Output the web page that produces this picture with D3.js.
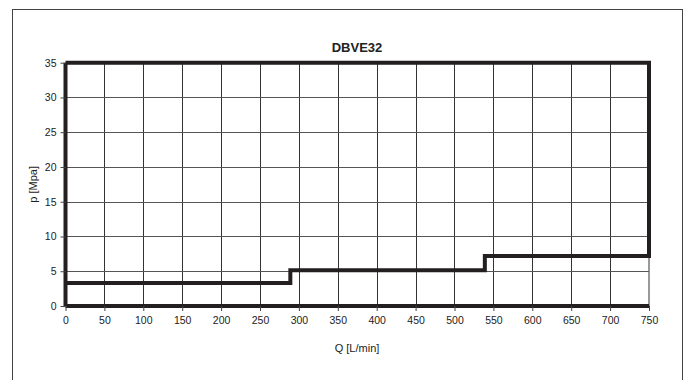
<!DOCTYPE html>
<html>
<head>
<meta charset="utf-8">
<script src="https://cdn.jsdelivr.net/npm/d3@7"></script>
<style>
  html, body { margin: 0; padding: 0; background: #fff; }
  svg text { font-family: "Liberation Sans Narrow", "Liberation Sans", Arial, sans-serif; fill: #222; }
</style>
</head>
<body>
<svg id="chart" width="690" height="380"></svg>
<script>
const title = "DBVE32";
const xLabel = "Q [L/min]";
const yLabel = "p [Mpa]";
const xTicks = [0, 50, 100, 150, 200, 250, 300, 350, 400, 450, 500, 550, 600, 650, 700, 750];
const yTicks = [0, 5, 10, 15, 20, 25, 30, 35];
// characteristic curve (flow Q, pressure p)
const flowQ = [0, 289, 289, 539, 539, 750, 750, 0];
const pressureP = [3.3, 3.3, 5.15, 5.15, 7.2, 7.2, 35, 35];

const svg = d3.select("#chart");
const x = d3.scaleLinear().domain([0, 750]).range([65.5, 649]);
const y = d3.scaleLinear().domain([0, 35]).range([306, 62.7]);

// outer frame
svg.append("rect").attr("x", 12.5).attr("y", 9.5).attr("width", 670).attr("height", 380)
  .attr("fill", "none").attr("stroke", "#444").attr("stroke-width", 1);

// plot area right border (thin gray)
svg.append("line").attr("x1", x(750)).attr("x2", x(750)).attr("y1", y(0)).attr("y2", y(35))
  .attr("stroke", "#999").attr("stroke-width", 2);

// grid
const g = svg.append("g");
g.selectAll(".vg").data(xTicks.slice(1, -1)).enter().append("line")
  .attr("x1", d => Math.round(x(d)) + 0.5).attr("x2", d => Math.round(x(d)) + 0.5)
  .attr("y1", y(0)).attr("y2", y(35)).attr("stroke", "#333").attr("stroke-width", 1);
g.selectAll(".hg").data(yTicks.slice(1, -1)).enter().append("line")
  .attr("y1", d => Math.round(y(d)) + 0.5).attr("y2", d => Math.round(y(d)) + 0.5)
  .attr("x1", x(0)).attr("x2", x(750)).attr("stroke", "#555").attr("stroke-width", 1);

// axes
const xAxis = svg.append("g").attr("transform", `translate(0,${y(0)})`)
  .call(d3.axisBottom(x).tickValues(xTicks).tickSize(5).tickPadding(6).tickFormat(d3.format("d")));
const yAxis = svg.append("g").attr("transform", `translate(${x(0)},0)`)
  .call(d3.axisLeft(y).tickValues(yTicks).tickSize(5).tickPadding(4).tickFormat(d3.format("d")));
[xAxis, yAxis].forEach(a => {
  a.select(".domain").attr("stroke", "#231f20").attr("stroke-width", 4);
  a.selectAll(".tick line").attr("stroke", "#444");
  a.selectAll("text").attr("font-size", 10.5).attr("fill", "#222")
    .attr("font-family", "'Liberation Sans Narrow', 'Liberation Sans', Arial, sans-serif");
});
xAxis.select(".domain").attr("d", `M${x(0)},0H${x(750)}`);
yAxis.select(".domain").attr("d", `M0,${y(0)}V${y(35)}`);

// curve
const line = d3.line().x(d => x(d[0])).y(d => y(d[1]));
const pts = flowQ.map((q, i) => [q, pressureP[i]]);
svg.append("path").attr("d", line(pts)).attr("fill", "none")
  .attr("stroke", "#231f20").attr("stroke-width", 4).attr("stroke-linejoin", "miter");

// titles
svg.append("text").attr("x", 357).attr("y", 52).attr("text-anchor", "middle")
  .attr("font-size", 13).attr("font-weight", "bold").text(title);
svg.append("text").attr("x", 357).attr("y", 352).attr("text-anchor", "middle")
  .attr("font-size", 11).text(xLabel);
svg.append("text").attr("transform", `translate(37,${(y(0) + y(35)) / 2}) rotate(-90)`)
  .attr("text-anchor", "middle").attr("font-size", 11).text(yLabel);
</script>
</body>
</html>
